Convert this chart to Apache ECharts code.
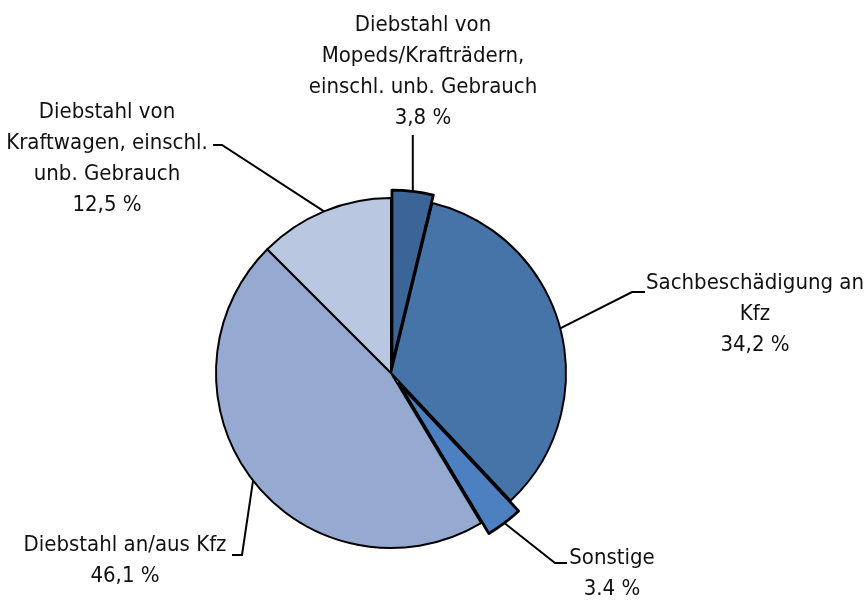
<!DOCTYPE html>
<html>
<head>
<meta charset="utf-8">
<script src="https://cdn.jsdelivr.net/npm/echarts@6/dist/echarts.min.js"></script>
<style>
  html, body { margin: 0; padding: 0; background: #ffffff; }
  #chart { width: 866px; height: 601px; }
</style>
</head>
<body>
<div id="chart"></div>
<script>
// Kfz-bezogene Delikte, Anteile in Prozent (im Uhrzeigersinn ab 12 Uhr)
const categories = [
  'Diebstahl von\nMopeds/Krafträdern,\neinschl. unb. Gebrauch',
  'Sachbeschädigung an\nKfz',
  'Sonstige',
  'Diebstahl an/aus Kfz',
  'Diebstahl von\nKraftwagen, einschl.\nunb. Gebrauch'
];
const shares = [3.8, 34.2, 3.4, 46.1, 12.5];
const decimalMarks = [',', ',', '.', ',', ','];
const sliceColors = ['#3b6497', '#4674a8', '#4c80c0', '#95a9d1', '#bac7e0'];
const explodeOffsets = [8, 0, 13, 0, 0];

// Geometry of the pie in pixels
const CX = 391, CY = 373, R = 175;

// Label anchors and leader-line bends
const labelPlacement = [
  { x: 423, y: 10,  align: 'center', bend: null, end: null, toY: 135 },
  { x: 755, y: 268, align: 'center', bend: [632, 292], end: [645, 292] },
  { x: 612, y: 543, align: 'center', bend: [555, 563], end: [567, 563] },
  { x: 125, y: 530, align: 'center', bend: [242, 555], end: [232, 555] },
  { x: 107, y: 97,  align: 'center', bend: [222, 145], end: [213, 145] }
];

const total = shares.reduce((a, b) => a + b, 0);
let acc = 0;
const midAngles = shares.map(v => {
  const m = (acc + v / 2) / total * 2 * Math.PI;
  acc += v;
  return m;
});

function edgePoint(i) {
  const r = R + explodeOffsets[i];
  return [CX + r * Math.sin(midAngles[i]), CY - r * Math.cos(midAngles[i])];
}

function formatShare(i) {
  return String(shares[i]).replace('.', decimalMarks[i]) + ' %';
}

const FONT = "'DejaVu Sans Condensed', 'Liberation Sans Narrow', 'Arial Narrow', sans-serif";

// Base pie: non-exploded slices plus all labels
const baseData = shares.map((v, i) => ({
  name: categories[i],
  value: v,
  itemStyle: explodeOffsets[i] > 0
    ? { color: 'rgba(0,0,0,0)', borderWidth: 0 }
    : { color: sliceColors[i], borderColor: '#000', borderWidth: 2 }
}));

const series = [{
  type: 'pie',
  center: [CX, CY],
  radius: [0, R],
  startAngle: 90,
  clockwise: true,
  avoidLabelOverlap: false,
  animation: false,
  silent: true,
  emphasis: { disabled: true },
  data: baseData,
  label: {
    show: true,
    formatter: p => categories[p.dataIndex] + '\n' + formatShare(p.dataIndex),
    fontFamily: FONT,
    fontSize: 22,
    lineHeight: 31,
    color: '#111',
    align: 'center'
  },
  labelLine: {
    show: true,
    lineStyle: { color: '#000', width: 2 }
  },
  labelLayout: params => {
    const i = params.dataIndex;
    const pl = labelPlacement[i];
    const p0 = edgePoint(i);
    let pts;
    if (pl.bend) {
      pts = [p0, pl.bend, pl.end];
    } else {
      pts = [p0, [p0[0], pl.toY], [p0[0], pl.toY]];
    }
    return {
      x: pl.x,
      y: pl.y,
      align: pl.align,
      verticalAlign: 'top',
      labelLinePoints: pts
    };
  }
}];

// Exploded slices, each pulled out by its own offset
shares.forEach((v, i) => {
  if (!explodeOffsets[i]) return;
  series.push({
    type: 'pie',
    center: [CX, CY],
    radius: [0, R],
    startAngle: 90,
    clockwise: true,
    animation: false,
    silent: true,
    selectedMode: 'multiple',
    selectedOffset: explodeOffsets[i],
    emphasis: { disabled: true },
    label: { show: false },
    labelLine: { show: false },
    data: shares.map((w, j) => ({
      name: categories[j],
      value: w,
      selected: j === i,
      itemStyle: j === i
        ? { color: sliceColors[j], borderColor: '#000', borderWidth: 2.8 }
        : { color: 'rgba(0,0,0,0)', borderWidth: 0 },
      select: j === i
        ? { itemStyle: { color: sliceColors[j], borderColor: '#000', borderWidth: 2.8 } }
        : undefined
    }))
  });
});

const chart = echarts.init(document.getElementById('chart'), null, { renderer: 'canvas' });
chart.setOption({
  backgroundColor: '#ffffff',
  animation: false,
  series: series
});
</script>
</body>
</html>
